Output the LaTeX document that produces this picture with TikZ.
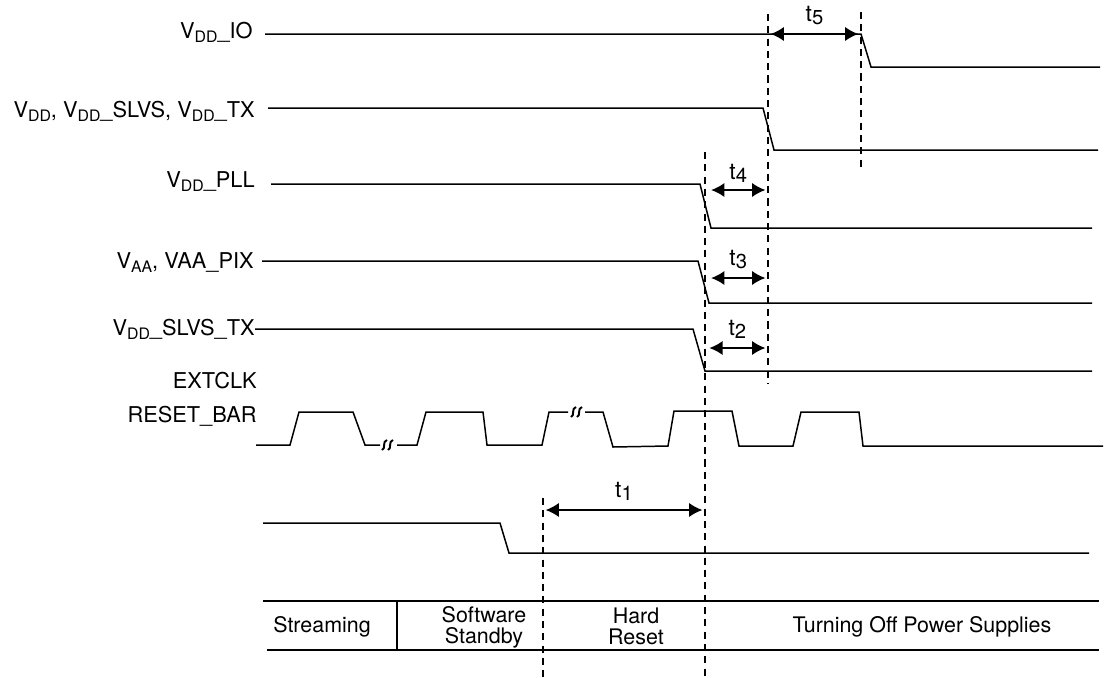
\documentclass[tikz,border=0pt]{standalone}
\usepackage{fontspec}
\setmainfont{TeX Gyre Heros}
\usetikzlibrary{arrows.meta,positioning}
\newcommand{\lowsub}[1]{\raisebox{-2.5pt}{\fontsize{9}{9}\selectfont #1}}
\newcommand{\tsub}[1]{\raisebox{-1.8pt}{\fontsize{11.5}{11.5}\selectfont #1}}

\begin{document}
\begin{tikzpicture}[x=0.02cm,y=-0.02cm]
  % Styles for waveforms, guides and labels
  \tikzset{sigline/.style={line width=0.85pt, line join=miter}}
  \tikzset{guide/.style={line width=0.85pt, dash pattern=on 4pt off 3pt}}
  \tikzset{timing/.style={line width=0.85pt, shorten <=1.5pt, shorten >=1.5pt, {Latex[length=7.5pt,width=8pt]}-{Latex[length=7.5pt,width=8pt]}}}
  \tikzset{siglabel/.style={anchor=base east, inner sep=0pt, font=\fontsize{12.4}{13}\selectfont}}
  \tikzset{tlabel/.style={inner sep=0pt, font=\fontsize{13}{13}\selectfont}}
  \tikzset{phase/.style={align=center, inner sep=0pt, font=\fontsize{12.2}{11.8}\selectfont}}

  \useasboundingbox (0,0) rectangle (1105,677);

  % Signal names
  \node[siglabel] (lio) at (253,38) {V\lowsub{DD}\_IO};
  \node[siglabel] (lcore) at (255,117) {V\lowsub{DD}, V\lowsub{DD}\_SLVS, V\lowsub{DD}\_TX};
  \node[siglabel] (lpll) at (255,187) {V\lowsub{DD}\_PLL};
  \node[siglabel] (laa) at (254,268) {V\lowsub{AA}, VAA\_PIX};
  \node[siglabel] (lslvs) at (255,335) {V\lowsub{DD}\_SLVS\_TX};
  \node[siglabel] (lclk) at (257,388) {EXTCLK};
  \node[siglabel] (lrst) at (257,422) {RESET\_BAR};

  % Supplies
  \draw[sigline] (265,34) -- (861,34) -- (871,67) -- (1100,67);
  \draw[sigline] (268,108) -- (763,108) -- (774,150) -- (1098,150);
  \draw[sigline] (271,184) -- (700,184) -- (711,228) -- (1092,228);
  \draw[sigline] (262,261) -- (698,261) -- (709,303) -- (1092,303);
  \draw[sigline] (255,329) -- (693,329) -- (705,371) -- (1092,371);

  % Clock
  \draw[sigline] (256,445) -- (290,445) -- (299,412) -- (353,412) -- (365,445) -- (380,445);
  \draw[sigline] (397,445) -- (417,445) -- (426,412) -- (483,412) -- (487,445) -- (542,445) -- (549,412) -- (568,412);
  \draw[sigline] (585,412) -- (603,412) -- (613,447) -- (668,446) -- (674,411) -- (732,411)
    -- (739,446) -- (793,446) -- (801,412) -- (859,412) -- (863,446) -- (1103,446);
  \foreach \sx/\sy in {382/445, 388/445, 571/412, 577/412}
    \draw[line width=1.1pt] (\sx,\sy+5) .. controls (\sx+4,\sy+4) and (\sx,\sy-4) .. (\sx+5,\sy-5);

  % Reset
  \draw[sigline] (263,523) -- (500,523) -- (509,553) -- (1089,553);

  % Guides
  \coordinate (gAtop) at (543,498);  \coordinate (gAbot) at (543,677);
  \coordinate (gBtop) at (705,152);  \coordinate (gBbot) at (705,677);
  \coordinate (gCtop) at (768,14);   \coordinate (gCbot) at (768,384);
  \coordinate (gDtop) at (861,12);   \coordinate (gDbot) at (861,168);
  \draw[guide] (gAtop) -- (gAbot);
  \draw[guide] (gBtop) -- (gBbot);
  \draw[guide] (gCtop) -- (gCbot);
  \draw[guide] (gDtop) -- (gDbot);

  % Timing
  \draw[timing] (gCtop |- 0,34) -- node[tlabel, above=5pt] (lt5) {t\tsub{5}} (gDtop |- 0,34);
  \draw[timing] ([xshift=2pt]gBtop |- 0,190) -- node[tlabel, above=4pt] (lt4) {t\tsub{4}} (gCtop |- 0,190);
  \draw[timing] ([xshift=2pt]gBtop |- 0,278) -- node[tlabel, above=5pt] (lt3) {t\tsub{3}} (gCtop |- 0,278);
  \draw[timing] ([xshift=1pt]gBtop |- 0,348) -- node[tlabel, above=5pt] (lt2) {t\tsub{2}} (gCtop |- 0,348);
  \draw[timing] (gAtop |- 0,510) -- node[tlabel, above=5pt] (lt1) {t\tsub{1}} (gBtop |- 0,510);

  % Phases
  \coordinate (ttl) at (263,601);  \coordinate (ttr) at (1099,601);
  \coordinate (tbl) at (267,650);  \coordinate (tbr) at (1099,650);
  \draw[sigline] (ttl) -- (ttr);
  \draw[sigline] (tbl) -- (tbr);
  \draw[sigline] (397,601) -- (397,650);
  \node[phase] (pstream) at (322,627) {Streaming};
  \node[phase] (psoft) at (484,627) {Software\\Standby};
  \node[phase] (phard) at (636,626) {Hard\\Reset};
  \node[phase] (poff) at (922,627) {Turning Off Power Supplies};
\end{tikzpicture}
\end{document}
